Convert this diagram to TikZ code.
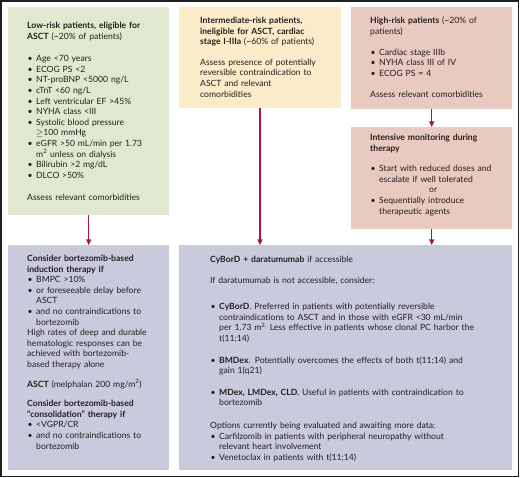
\documentclass[tikz,border=0pt]{standalone}
\usepackage{fontspec}
\setmainfont{Lato}
\usetikzlibrary{arrows.meta}

\definecolor{ink}{HTML}{231F20}
\definecolor{lowgreen}{HTML}{E0E9D0}
\definecolor{midyellow}{HTML}{FBEBC8}
\definecolor{highrose}{HTML}{E9CAC0}
\definecolor{treatblue}{HTML}{C9CADC}
\definecolor{arrowred}{HTML}{A8163E}

\newenvironment{risklist}[1][9pt]{%
  \begin{list}{\textbullet}{%
    \setlength{\leftmargin}{#1}\setlength{\labelwidth}{5pt}%
    \setlength{\labelsep}{3.5pt}\setlength{\itemsep}{0pt}%
    \setlength{\parsep}{0pt}\setlength{\topsep}{0pt}%
    \setlength{\partopsep}{0pt}\setlength{\itemindent}{0pt}}}%
  {\end{list}}

\tikzset{
  panel/.style={anchor=north west, inner sep=0pt, minimum width=161pt},
  txt/.style={anchor=north west, inner sep=0pt, align=left, text=ink,
    text width=140pt, font=\fontsize{8.6}{10.6}\selectfont,
    execute at begin node={\setlength{\parindent}{0pt}\setlength{\parskip}{0pt}}},
  link/.style={->, draw=arrowred, line width=1.1pt}
}

\begin{document}
\begin{tikzpicture}[x=1pt, y=-1pt, >={Triangle[length=5.5pt,width=5pt]}]
  \useasboundingbox (0,0) rectangle (520,478);
  \draw[ink, line width=1.3pt] (1,1) rectangle (518.6,476.6);

  % boxes
  \node[panel, fill=lowgreen, minimum height=208pt] (low) at (8,7) {};
  \node[panel, fill=midyellow, minimum width=161.5pt, minimum height=101pt] (inter) at (179,7) {};
  \node[panel, fill=highrose, minimum height=102pt] (high) at (351,7) {};
  \node[panel, fill=highrose, minimum height=102pt] (monitor) at (351,127) {};
  \node[panel, fill=treatblue, minimum height=225pt] (induct) at (8,245) {};
  \node[panel, fill=treatblue, minimum width=333pt, minimum height=225pt] (dara) at (179,245) {};

  % low risk
  \node[txt] (lowtext) at (27,22) {%
    \textbf{Low-risk patients, eligible for}\\
    \textbf{ASCT} (\textasciitilde20\% of patients)\par
    \vspace{12pt}
    \begin{risklist}
      \item Age <70 years
      \item ECOG PS <2
      \item NT-proBNP <5000 ng/L
      \item cTnT <60 ng/L
      \item Left ventricular EF >45\%
      \item NYHA class <III
      \item Systolic blood pressure\\ $\geq$100 mmHg
      \item eGFR >50 mL/min per 1.73\\ m\textsuperscript{2} unless on dialysis
      \item Bilirubin >2 mg/dL
      \item DLCO >50\%
    \end{risklist}
    \vspace{12pt}
    Assess relevant comorbidities};

  % intermediate risk
  \node[txt] (intertext) at (200,17) {%
    \textbf{Intermediate-risk patients,}\\
    \textbf{ineligible for ASCT, cardiac}\\
    \textbf{stage I-IIIa} (\textasciitilde60\% of patients)\par
    \vspace{10pt}
    Assess presence of potentially\\
    reversible contraindication to\\
    ASCT and relevant\\
    comorbidities};

  % high risk
  \node[txt] (hightext) at (370,17) {%
    \textbf{High-risk patients} (\textasciitilde20\% of\\
    patients)\par
    \vspace{10pt}
    \begin{risklist}
      \item Cardiac stage IIIb
      \item NYHA class III of IV
      \item ECOG PS = 4
    \end{risklist}
    \vspace{11pt}
    Assess relevant comorbidities};

  % monitoring
  \node[txt] (monitortext) at (370,134) {%
    \textbf{Intensive monitoring during}\\
    \textbf{therapy}\par
    \vspace{10pt}
    \begin{risklist}
      \item Start with reduced doses and\\ escalate if well tolerated
      \item[] \hspace*{50pt}or
      \item Sequentially introduce\\ therapeutic agents
    \end{risklist}};

  % induction
  \node[txt] (inducttext) at (27,255) {%
    \textbf{Consider bortezomib-based}\\
    \textbf{induction therapy if}
    \begin{risklist}
      \item BMPC >10\%
      \item or foreseeable delay before\\ ASCT
      \item and no contraindications to\\ bortezomib
    \end{risklist}
    High rates of deep and durable\\
    hematologic responses can be\\
    achieved with bortezomib-\\
    based therapy alone\par
    \vspace{9pt}
    \textbf{ASCT} (melphalan 200 mg/m\textsuperscript{2})\par
    \vspace{9pt}
    \textbf{Consider bortezomib-based}\\
    \textbf{“consolidation” therapy if}
    \begin{risklist}
      \item <VGPR/CR
      \item and no contraindications to\\ bortezomib
    \end{risklist}};

  % daratumumab
  \node[txt, text width=295pt] (daratext) at (210,256) {%
    \textbf{CyBorD + daratumumab} if accessible\par
    \vspace{10pt}
    If daratumumab is not accessible, consider:\par
    \vspace{16pt}
    \begin{risklist}
      \item \textbf{CyBorD}. Preferred in patients with potentially reversible\\
        contraindications to ASCT and in those with eGFR <30 mL/min\\
        per 1.73 m\textsuperscript{2.} Less effective in patients whose clonal PC harbor the\\
        t(11;14)\par
        \vspace{11pt}
      \item \textbf{BMDex}. Potentially overcomes the effects of both t(11;14) and\\
        gain 1(q21)\par
        \vspace{11pt}
      \item \textbf{MDex, LMDex, CLD.} Useful in patients with contraindication to\\
        bortezomib
    \end{risklist}
    \vspace{12pt}
    Options currently being evaluated and awaiting more data:
    \begin{risklist}
      \item Carfilzomib in patients with peripheral neuropathy without\\
        relevant heart involvement
      \item Venetoclax in patients with t(11;14)
    \end{risklist}};

  % arrows
  \draw[link] (low.south) -- (induct.north);
  \draw[link] (inter.south) -- (inter.south |- dara.north);
  \draw[link] (high.south) -- (monitor.north);
  \draw[link] (monitor.south) -- (monitor.south |- dara.north);
\end{tikzpicture}
\end{document}
